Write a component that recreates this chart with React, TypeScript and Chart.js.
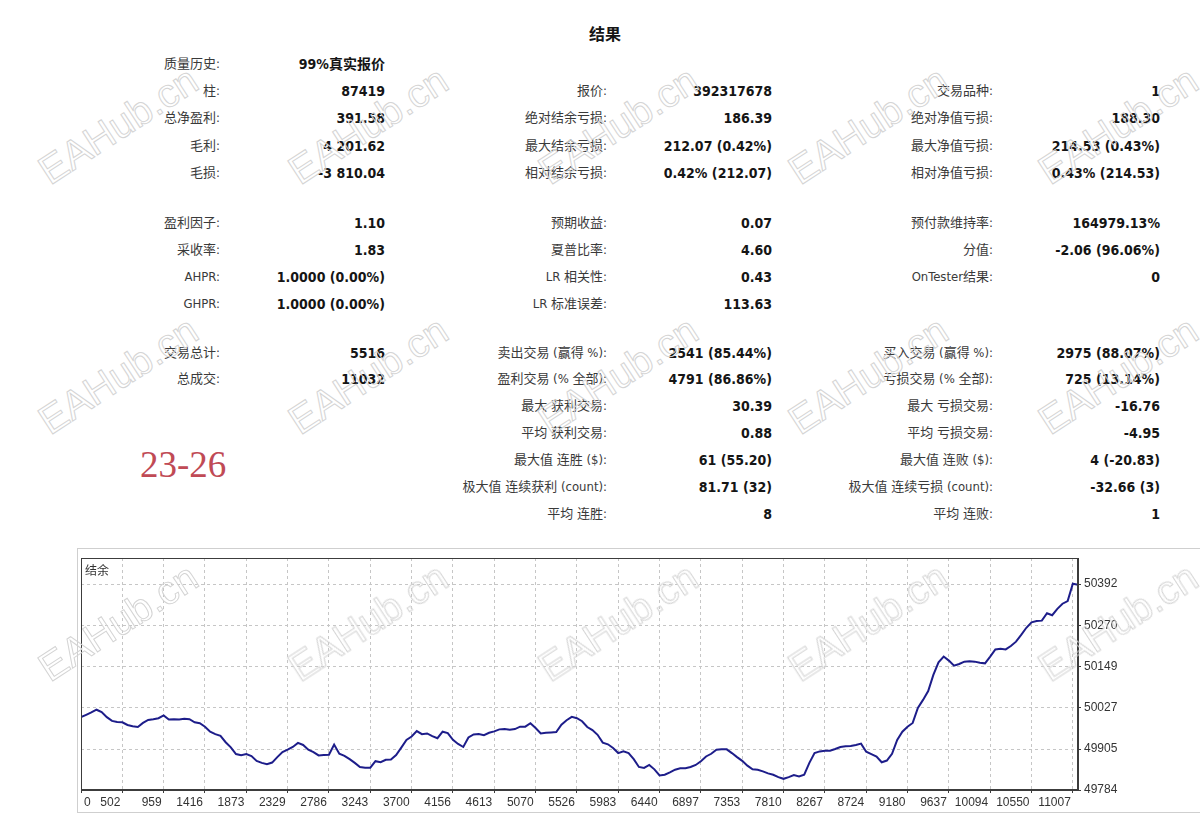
import React, { useEffect, useRef } from "react";
import { Chart, registerables } from "chart.js";

Chart.register(...registerables);

// ---------- chart data ----------
// Balance curve, sampled evenly (8 samples per grid division)
const BALANCE: number[] = [
  49999, 50006, 50013, 50021, 50014, 49999, 49988, 49985, 49984, 49976,
  49972, 49970, 49982, 49991, 49993, 49996, 50004, 49992, 49993, 49992,
  49994, 49993, 49984, 49981, 49971, 49956, 49949, 49944, 49925, 49910,
  49890, 49887, 49890, 49884, 49870, 49864, 49860, 49865, 49881, 49896,
  49903, 49911, 49923, 49917, 49903, 49896, 49886, 49887, 49888,
  49918, 49891, 49885, 49875, 49864, 49852, 49850, 49850, 49869, 49866,
  49873, 49874, 49887, 49909, 49932, 49942, 49958, 49949, 49951, 49943,
  49937, 49956, 49952, 49932, 49920, 49911, 49939, 49948, 49949, 49946,
  49953, 49957, 49963, 49964, 49962, 49964, 49971, 49971, 49981, 49967,
  49951, 49953, 49954, 49955, 49977, 49990, 50000, 49996,
  49987, 49970, 49961, 49947, 49924, 49919, 49908, 49893, 49898, 49893,
  49875, 49852, 49849, 49858, 49845, 49827, 49829, 49836, 49844, 49848,
  49848, 49852, 49858, 49869, 49883, 49891, 49903, 49904, 49904, 49893,
  49881, 49870, 49856, 49845, 49844, 49839, 49833, 49829, 49822, 49817,
  49822, 49828, 49824, 49829, 49864, 49893, 49898, 49900,
  49900, 49905, 49911, 49913, 49914, 49917, 49921, 49897, 49890, 49883,
  49866, 49871, 49891, 49932, 49956, 49971, 49982, 50026, 50050, 50076,
  50124, 50161, 50178, 50166, 50151, 50156, 50163, 50164, 50163, 50160,
  50158, 50178, 50199, 50201, 50199, 50209, 50222, 50242, 50263, 50279,
  50283, 50284, 50306, 50300, 50319, 50334, 50342, 50393, 50390,
];

const X_LABELS: string[] = [
  "0", "502", "959", "1416", "1873", "2329", "2786", "3243", "3700",
  "4156", "4613", "5070", "5526", "5983", "6440", "6897", "7353", "7810",
  "8267", "8724", "9180", "9637", "10094", "10550", "11007",
];
const SAMPLES_PER_DIVISION = 8;

const Y_TICKS: number[] = [49784, 49905, 50027, 50149, 50270, 50392];
const Y_MIN = 49784;
const Y_MAX = 50469;

const CHART_TITLE = "结余";

// ---------- report text ----------
type Row = [string, string] | null;
const REPORT_TITLE = "结果";
const S1_A: Row[] = [["质量历史:", "99%真实报价"], ["柱:", "87419"], ["总净盈利:", "391.58"], ["毛利:", "4 201.62"], ["毛损:", "-3 810.04"]];
const S1_B: Row[] = [null, ["报价:", "392317678"], ["绝对结余亏损:", "186.39"], ["最大结余亏损:", "212.07 (0.42%)"], ["相对结余亏损:", "0.42% (212.07)"]];
const S1_C: Row[] = [null, ["交易品种:", "1"], ["绝对净值亏损:", "188.30"], ["最大净值亏损:", "214.53 (0.43%)"], ["相对净值亏损:", "0.43% (214.53)"]];
const S2_A: Row[] = [["盈利因子:", "1.10"], ["采收率:", "1.83"], ["AHPR:", "1.0000 (0.00%)"], ["GHPR:", "1.0000 (0.00%)"]];
const S2_B: Row[] = [["预期收益:", "0.07"], ["夏普比率:", "4.60"], ["LR 相关性:", "0.43"], ["LR 标准误差:", "113.63"]];
const S2_C: Row[] = [["预付款维持率:", "164979.13%"], ["分值:", "-2.06 (96.06%)"], ["OnTester结果:", "0"]];
const S3_A: Row[] = [["交易总计:", "5516"], ["总成交:", "11032"]];
const S3_B: Row[] = [["卖出交易 (赢得 %):", "2541 (85.44%)"], ["盈利交易 (% 全部):", "4791 (86.86%)"], ["最大 获利交易:", "30.39"], ["平均 获利交易:", "0.88"], ["最大值 连胜 ($):", "61 (55.20)"], ["极大值 连续获利 (count):", "81.71 (32)"], ["平均 连胜:", "8"]];
const S3_C: Row[] = [["买入交易 (赢得 %):", "2975 (88.07%)"], ["亏损交易 (% 全部):", "725 (13.14%)"], ["最大 亏损交易:", "-16.76"], ["平均 亏损交易:", "-4.95"], ["最大值 连败 ($):", "4 (-20.83)"], ["极大值 连续亏损 (count):", "-32.66 (3)"], ["平均 连败:", "1"]];
const NOTE = "23-26";
const WATERMARK = "EAHub.cn";

// ---------- layout ----------
const PAGE_W = 1200;
const TEXT_FONT = '"DejaVu Sans Condensed", "DejaVu Sans", "Noto Sans CJK SC", sans-serif';
const COLS = [
  { labelRight: 220, valueRight: 385 },
  { labelRight: 607, valueRight: 772 },
  { labelRight: 993, valueRight: 1160 },
];
const SECTIONS: { y0: number; step: number; cols: Row[][] }[] = [
  { y0: 64, step: 27.2, cols: [S1_A, S1_B, S1_C] },
  { y0: 222.5, step: 27, cols: [S2_A, S2_B, S2_C] },
  { y0: 352.5, step: 26.9, cols: [S3_A, S3_B, S3_C] },
];
const WM_X = [118, 368, 618, 868, 1118];
const WM_Y = [125, 375, 622];

const CANVAS_TOP = 540;
const CANVAS_H = 282;

const framePlugin = {
  id: "plotFrame",
  beforeDraw(chart: any) {
    const sc = chart.scales.x;
    const items = sc.getLabelItems();
    if (items && items.length) {
      items[0].options.textAlign = "left";
      items[0].options.translation[0] = sc.left + 3;
    }
  },
  afterDraw(chart: any) {
    const { ctx, chartArea } = chart;
    const { left, top, right, bottom } = chartArea;
    ctx.save();
    ctx.strokeStyle = "#3c3c3c";
    ctx.lineWidth = 1;
    ctx.strokeRect(Math.round(left) + 0.5, Math.round(top) + 0.5, Math.round(right - left) - 1, Math.round(bottom - top) - 1);
    ctx.restore();
  },
};

function Report() {
  const out: React.ReactNode[] = [];
  SECTIONS.forEach((sec, si) => {
    sec.cols.forEach((col, ci) => {
      col.forEach((row, ri) => {
        if (!row) return;
        const y = sec.y0 + ri * sec.step;
        const c = COLS[ci];
        out.push(
          <div key={`l${si}-${ci}-${ri}`} style={{ position: "absolute", right: PAGE_W - c.labelRight, top: y - 10, lineHeight: "20px", fontSize: 13, color: "#3a3a3a", whiteSpace: "nowrap" }}>
            {row[0]}
          </div>
        );
        out.push(
          <div key={`v${si}-${ci}-${ri}`} style={{ position: "absolute", right: PAGE_W - c.valueRight, top: y - 10, lineHeight: "20px", fontSize: 14, fontWeight: 700, color: "#151515", whiteSpace: "nowrap" }}>
            {row[1]}
          </div>
        );
      });
    });
  });
  return <>{out}</>;
}

export default function App() {
  const ref = useRef<HTMLCanvasElement>(null);

  useEffect(() => {
    document.body.style.margin = "0";
    const canvas = ref.current;
    if (!canvas) return;
    const points = BALANCE.map((v, i) => ({ x: i, y: v }));
    const tickFont = { family: '"Liberation Sans", "DejaVu Sans", sans-serif', size: 12 };
    const chart = new Chart(canvas, {
      type: "line",
      data: {
        datasets: [
          {
            data: points,
            borderColor: "#1d1d8a",
            borderWidth: 2,
            pointRadius: 0,
            tension: 0,
            fill: false,
          },
        ],
      },
      options: {
        animation: false,
        responsive: false,
        maintainAspectRatio: false,
        events: [],
        layout: { padding: { left: 81, right: 62, top: 18, bottom: 8 } },
        plugins: {
          legend: { display: false },
          tooltip: { enabled: false },
          title: { display: false },
        },
        scales: {
          x: {
            type: "linear",
            min: 0,
            max: BALANCE.length - 1,
            afterBuildTicks: (s: any) => {
              s.ticks = X_LABELS.map((_, k) => ({ value: k * SAMPLES_PER_DIVISION }));
            },
            afterFit: (s: any) => {
              s.height = 24;
            },
            ticks: {
              callback: (v: any) => X_LABELS[Math.round(Number(v) / SAMPLES_PER_DIVISION)] ?? "",
              autoSkip: false,
              maxRotation: 0,
              minRotation: 0,
              align: "end",
              labelOffset: -2,
              padding: 2,
              color: "#333",
              font: tickFont,
            },
            grid: { color: "#c6c6c6", lineWidth: 1, tickColor: "#3c3c3c", tickLength: 3, tickBorderDash: [] },
            border: { display: true, color: "#3c3c3c", width: 1, dash: [3, 3] },
          },
          y: {
            type: "linear",
            position: "right",
            min: Y_MIN,
            max: Y_MAX,
            afterBuildTicks: (s: any) => {
              s.ticks = Y_TICKS.map((v) => ({ value: v }));
            },
            afterFit: (s: any) => {
              s.width = 60;
            },
            ticks: {
              callback: (v: any) => String(v),
              padding: 3,
              color: "#333",
              font: tickFont,
            },
            grid: { color: "#c6c6c6", lineWidth: 1, tickColor: "#3c3c3c", tickLength: 3, tickBorderDash: [] },
            border: { display: true, color: "#3c3c3c", width: 1, dash: [3, 3] },
          },
        },
      },
      plugins: [framePlugin],
    } as any);
    return () => chart.destroy();
  }, []);

  return (
    <div
      style={{
        position: "absolute",
        left: 0,
        top: 0,
        width: PAGE_W,
        height: 822,
        background: "#fff",
        overflow: "hidden",
        fontFamily: TEXT_FONT,
      }}
    >
      <div style={{ position: "absolute", left: 0, width: 1210, top: 24, textAlign: "center", fontSize: 16, fontWeight: 700, color: "#151515", lineHeight: "22px" }}>
        {REPORT_TITLE}
      </div>
      <Report />
      <div style={{ position: "absolute", left: 140, top: 442, fontFamily: '"Liberation Serif", "DejaVu Serif", serif', fontSize: 37, lineHeight: "46px", color: "#c04a55" }}>
        {NOTE}
      </div>
      <div style={{ position: "absolute", left: 77, top: 548, width: 1130, height: 265, border: "1px solid #cfcfcf", boxSizing: "border-box" }} />
      <canvas
        ref={ref}
        width={PAGE_W}
        height={CANVAS_H}
        style={{ position: "absolute", left: 0, top: CANVAS_TOP, width: PAGE_W, height: CANVAS_H, display: "block" }}
      />
      <div style={{ position: "absolute", left: 85, top: 562, fontSize: 12, lineHeight: "16px", color: "#333", fontFamily: '"Noto Sans CJK SC", sans-serif' }}>
        {CHART_TITLE}
      </div>
      {WM_Y.map((wy, r) =>
        WM_X.map((wx, c) => (
          <div
            key={`wm${r}-${c}`}
            style={{
              position: "absolute",
              left: wx,
              top: wy,
              transform: "translate(-50%, -50%) rotate(-33deg)",
              fontFamily: '"Liberation Sans", sans-serif',
              fontSize: 40,
              lineHeight: "46px",
              color: "transparent",
              WebkitTextStroke: "1px #d4d4d4",
              whiteSpace: "nowrap",
              pointerEvents: "none",
              zIndex: 5,
            }}
          >
            {WATERMARK}
          </div>
        ))
      )}
    </div>
  );
}
